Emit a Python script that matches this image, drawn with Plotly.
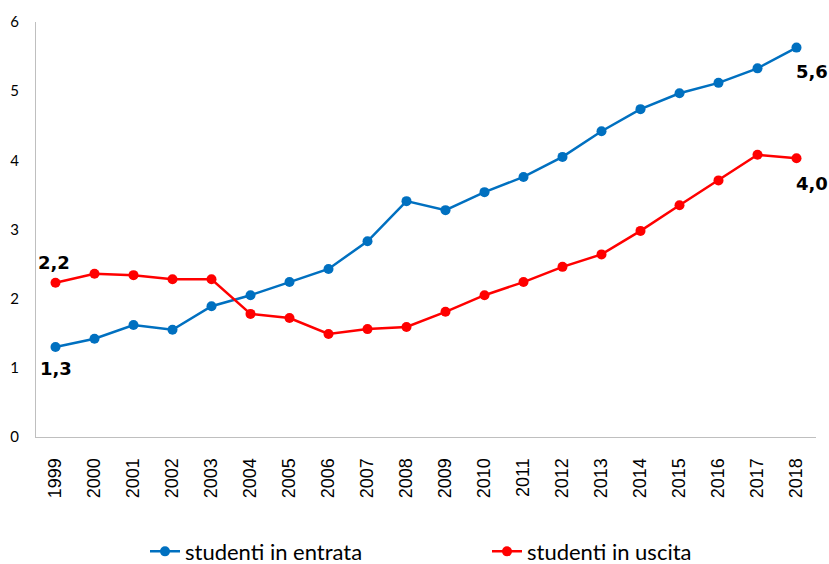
import plotly.graph_objects as go

years = [str(y) for y in range(1999, 2019)]
entrata = [1.30, 1.42, 1.62, 1.55, 1.89, 2.05, 2.24, 2.43, 2.83, 3.41,
           3.28, 3.54, 3.76, 4.05, 4.42, 4.74, 4.97, 5.12, 5.33, 5.63]
uscita = [2.23, 2.36, 2.34, 2.28, 2.28, 1.78, 1.72, 1.49, 1.56, 1.59,
          1.81, 2.05, 2.24, 2.46, 2.64, 2.98, 3.35, 3.71, 4.08, 4.03]
series_names = ["studenti in entrata", "studenti in uscita"]
title_text = "(valori percentuali sul totale degli iscritti)"
y_ticks = [0, 1, 2, 3, 4, 5, 6]

BLUE = "#0070C0"
RED = "#FF0000"

def fmt(v):
    return f"{v:.1f}".replace(".", ",")

fig = go.Figure()
fig.add_trace(go.Scatter(x=years, y=entrata, name=series_names[0], mode="lines+markers",
                         line=dict(color=BLUE, width=2.5), marker=dict(color=BLUE, size=10)))
fig.add_trace(go.Scatter(x=years, y=uscita, name=series_names[1], mode="lines+markers",
                         line=dict(color=RED, width=2.5), marker=dict(color=RED, size=10)))

first, last = 0, len(years) - 1
lab_font = dict(family="DejaVu Sans", size=18, color="#000000", weight="bold")
ann = [
    dict(x=first, y=uscita[first], text=fmt(uscita[first]), xshift=-2, yshift=20),
    dict(x=first, y=entrata[first], text=fmt(entrata[first]), xshift=0, yshift=-21),
    dict(x=last, y=entrata[last], text=fmt(entrata[last]), xshift=15, yshift=-24),
    dict(x=last, y=uscita[last], text=fmt(uscita[last]), xshift=15, yshift=-25),
]
for a in ann:
    fig.add_annotation(**a, showarrow=False, font=lab_font, xref="x", yref="y")

fig.add_annotation(x=(380 - 36) / 780, xref="paper", y=1.06, yref="paper", text=title_text,
                   showarrow=False, xanchor="center", yanchor="bottom",
                   font=dict(family="Lato", size=20, color="#000000"))

fig.update_layout(
    width=829, height=564,
    margin=dict(l=36, r=13, t=22, b=127, autoexpand=False),
    plot_bgcolor="white", paper_bgcolor="white",
    showlegend=True,
    legend=dict(orientation="h", x=(145 - 36) / 780, xanchor="left", y=-0.276, yanchor="middle",
                font=dict(family="Lato", size=22, color="#000000"),
                entrywidth=297, itemwidth=30, tracegroupgap=0),
    xaxis=dict(type="category", range=[-0.5, 19.5], tickangle=-90, automargin=False,
               showline=True, linecolor="#BFBFBF", linewidth=1, showgrid=False,
               ticks="", ticklabelstandoff=13,
               tickfont=dict(family="Liberation Sans", size=18, color="#000000")),
    yaxis=dict(range=[0, 6], tickvals=y_ticks, showline=True, linecolor="#BFBFBF", linewidth=1,
               automargin=False, showgrid=False, zeroline=False, ticks="", ticklabelstandoff=13,
               tickfont=dict(family="Lato", size=15, color="#000000")),
)

fig.write_html("out.html")
